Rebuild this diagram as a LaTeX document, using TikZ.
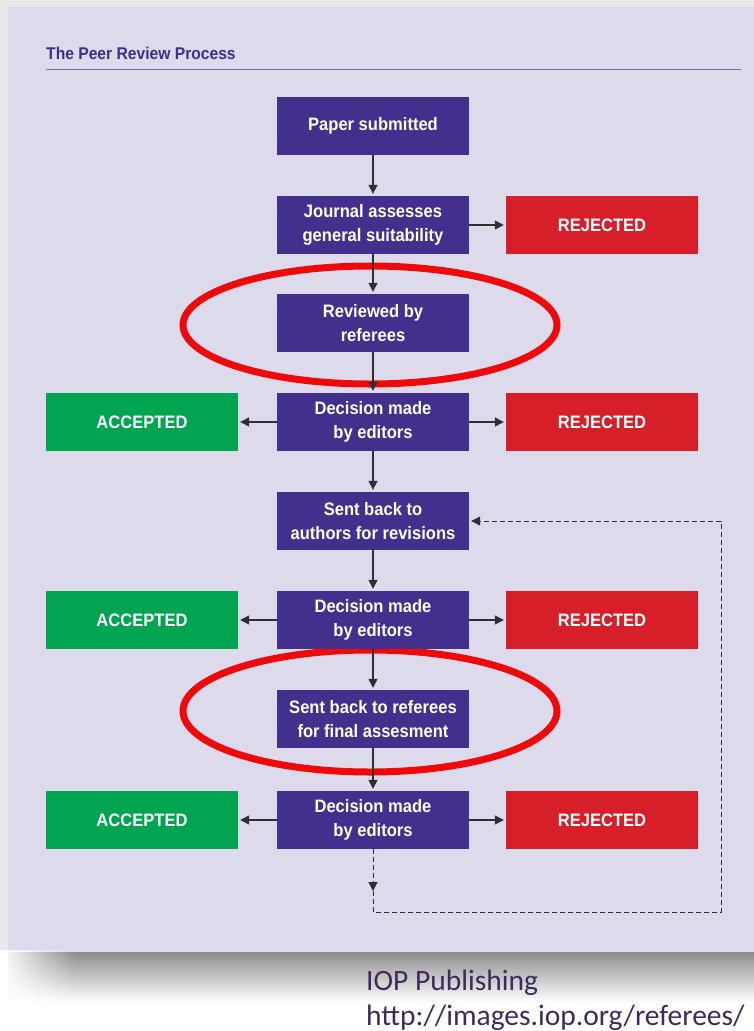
\documentclass[tikz,border=0pt]{standalone}
\usepackage{fontspec}
\newfontfamily\boxfont[FakeStretch=0.92]{Liberation Sans}
\newfontfamily\footfont{Carlito}
\usetikzlibrary{arrows.meta,fadings}
\definecolor{boxpurple}{HTML}{43308D}
\definecolor{titlepurple}{HTML}{3E2F8A}
\definecolor{okgreen}{HTML}{00A451}
\definecolor{nored}{HTML}{D71F2A}
\definecolor{ringred}{HTML}{EE0A0A}
\definecolor{arrowgray}{HTML}{2E2E33}
\definecolor{panel}{HTML}{DDDAEC}
\definecolor{outer}{HTML}{E8E8E8}
\definecolor{footpurple}{HTML}{3F2A5E}

\begin{document}
\begin{tikzpicture}[x=1pt,y=-1pt]
\tikzset{stage/.style = {rectangle,fill=boxpurple,minimum width=192pt,minimum height=58pt,inner sep=0pt,text=white,align=center,font=\boxfont\bfseries\fontsize{18}{24}\selectfont}}
\tikzset{accept/.style = {stage,fill=okgreen}}
\tikzset{reject/.style = {stage,fill=nored}}
\tikzset{edge/.style = {-{Triangle[length=9pt,width=9pt]},draw=arrowgray,line width=1.3pt,shorten >=2pt}}
\tikzset{loopedge/.style = {edge,dash pattern=on 5pt off 3pt,line width=1pt}}
\tikzset{ring/.style = {draw=ringred,line width=7pt}}
\useasboundingbox (0,0) rectangle (754,1031);
% background and shadow
\fill[outer] (0,0) rectangle (754,952);
\fill[panel] (8,7) rectangle (754,952);
\shade[top color=black!45,bottom color=white] (8,952) rectangle (754,1002);
\fill[white,path fading=east] (0,950) rectangle (75,1004);
\node[anchor=west,inner sep=0pt,text=titlepurple,font=\boxfont\bfseries\fontsize{17}{20}\selectfont] (title) at (46,53) {The Peer Review Process};
\draw[titlepurple!70,line width=1pt] (46,69) -- (741,69);
% red rings
\draw[ring] (370,325) ellipse [x radius=187,y radius=59];
\draw[ring] (370,711) ellipse [x radius=187,y radius=61];
% boxes
\node[stage] (p) at (373,126) {Paper submitted};
\node[stage] (j) at (373,225) {Journal assesses\\general suitability};
\node[reject] (r1) at (602,225) {REJECTED};
\node[stage] (rv) at (373,323) {Reviewed by\\referees};
\node[stage] (d1) at (373,422) {Decision made\\by editors};
\node[accept] (a1) at (142,422) {ACCEPTED};
\node[reject] (r2) at (602,422) {REJECTED};
\node[stage] (s1) at (373,521) {Sent back to\\authors for revisions};
\node[stage] (d2) at (373,620) {Decision made\\by editors};
\node[accept] (a2) at (142,620) {ACCEPTED};
\node[reject] (r3) at (602,620) {REJECTED};
\node[stage] (s2) at (373,719) {Sent back to referees\\for final assesment};
\node[stage] (d3) at (373,820) {Decision made\\by editors};
\node[accept] (a3) at (142,820) {ACCEPTED};
\node[reject] (r4) at (602,820) {REJECTED};
\coordinate (m) at (373,891);
\coordinate (c) at (721,912);
% arrows
\draw[edge] (p) to (j);
\draw[edge] (j) to (r1);
\draw[edge] (j) to (rv);
\draw[edge] (rv) to (d1);
\draw[edge] (d1) to (a1);
\draw[edge] (d1) to (r2);
\draw[edge] (d1) to (s1);
\draw[edge] (s1) to (d2);
\draw[edge] (d2) to (a2);
\draw[edge] (d2) to (r3);
\draw[edge] (d2) to (s2);
\draw[edge] (s2) to (d3);
\draw[edge] (d3) to (a3);
\draw[edge] (d3) to (r4);
\draw[loopedge,shorten >=0pt] (d3) to (m);
\draw[loopedge] (m) -- (m |- c) -- (c) -- (c |- s1) -- (s1.east);
\node[anchor=base west,inner sep=0pt,align=left,text=footpurple,font=\footfont\fontsize{29.5}{35}\selectfont] (src) at (366,1025) {IOP Publishing\\http://images.iop.org/referees/};
\end{tikzpicture}
\end{document}
